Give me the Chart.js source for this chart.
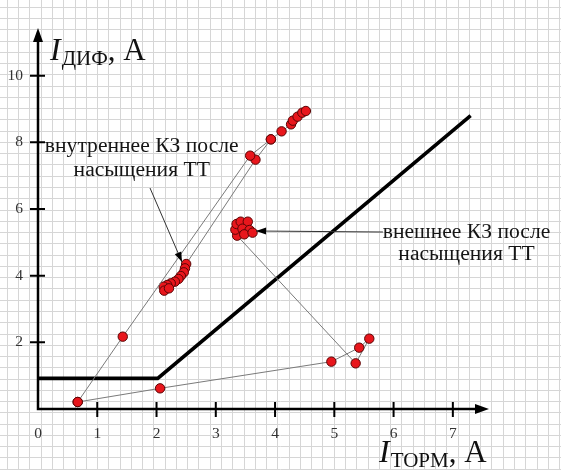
<!DOCTYPE html>
<html>
<head>
<meta charset="utf-8">
<script src="https://cdn.jsdelivr.net/npm/chart.js@4.4.1/dist/chart.umd.min.js"></script>
<style>
  html, body { margin: 0; padding: 0; background: #ffffff; }
  #wrap { width: 561px; height: 470px; }
</style>
</head>
<body>
<div id="wrap"><canvas id="chart" width="561" height="470"></canvas></div>
<script>
// Tick labels of both axes
const xTicks = [0, 1, 2, 3, 4, 5, 6, 7];
const yTicks = [2, 4, 6, 8, 10];

// Restraint characteristic (I_торм, I_диф)
const thresholdX = [0, 2.02, 7.3];
const thresholdY = [0.92, 0.92, 8.8];

// Internal fault: rise of the differential current
const intRiseX = [0.67, 1.43, 3.58, 3.93, 4.11, 4.27, 4.30, 4.38, 4.46, 4.52];
const intRiseY = [0.21, 2.17, 7.60, 8.09, 8.33, 8.54, 8.65, 8.77, 8.89, 8.94];

// Internal fault: after CT saturation
const intSatX = [3.93, 3.67, 2.50, 2.48, 2.46, 2.41, 2.37, 2.31, 2.24, 2.18, 2.12, 2.13, 2.21];
const intSatY = [8.09, 7.48, 4.35, 4.22, 4.10, 3.99, 3.90, 3.82, 3.77, 3.72, 3.67, 3.55, 3.62];

// External fault, ending after CT saturation
const extX = [0.67, 2.06, 4.95, 5.42, 5.59, 5.36, 3.36, 3.33, 3.35, 3.42, 3.54, 3.45, 3.57, 3.48, 3.62];
const extY = [0.21, 0.62, 1.42, 1.84, 2.11, 1.37, 5.20, 5.38, 5.55, 5.62, 5.62, 5.41, 5.37, 5.24, 5.29];

const SERIF = '"Liberation Serif", "DejaVu Serif", serif';
const toPts = (xs, ys) => xs.map((x, i) => ({ x: x, y: ys[i] }));

const pointStyle = {
  showLine: true,
  borderColor: '#7a7a7a',
  borderWidth: 1,
  pointRadius: 4.7,
  pointHoverRadius: 4.7,
  pointBackgroundColor: '#e8161c',
  pointBorderColor: '#5a0505',
  pointBorderWidth: 1,
  tension: 0
};

// Squared paper behind the whole picture
const paperGrid = {
  id: 'paperGrid',
  beforeDraw(chart) {
    const ctx = chart.ctx;
    const step = 11.27;
    ctx.save();
    ctx.fillStyle = '#ffffff';
    ctx.fillRect(0, 0, chart.width, chart.height);
    ctx.strokeStyle = '#d6d6d6';
    ctx.lineWidth = 1;
    ctx.beginPath();
    for (let x = 40.7 - step * 4; x < chart.width; x += step) {
      const px = Math.round(x) + 0.5;
      ctx.moveTo(px, 0); ctx.lineTo(px, chart.height);
    }
    for (let y = 6.7; y < chart.height; y += step) {
      const py = Math.round(y) + 0.5;
      ctx.moveTo(0, py); ctx.lineTo(chart.width, py);
    }
    ctx.stroke();
    ctx.restore();
  }
};

function arrowHead(ctx, x1, y1, x2, y2, len, half) {
  const a = Math.atan2(y2 - y1, x2 - x1);
  ctx.beginPath();
  ctx.moveTo(x2, y2);
  ctx.lineTo(x2 - len * Math.cos(a) + half * Math.sin(a), y2 - len * Math.sin(a) - half * Math.cos(a));
  ctx.lineTo(x2 - len * Math.cos(a) - half * Math.sin(a), y2 - len * Math.sin(a) + half * Math.cos(a));
  ctx.closePath();
  ctx.fill();
}

function drawTitle(ctx, x, y, sub) {
  ctx.textAlign = 'left';
  ctx.textBaseline = 'alphabetic';
  ctx.font = 'italic 32px ' + SERIF;
  ctx.fillText('I', x, y);
  let cx = x + ctx.measureText('I').width + 1;
  ctx.font = '21px ' + SERIF;
  ctx.fillText(sub, cx, y + 5);
  cx += ctx.measureText(sub).width;
  ctx.font = '31px ' + SERIF;
  ctx.fillText(', А', cx, y);
}

// Axes with arrows, crossing tick marks, titles and callouts
const overlay = {
  id: 'overlay',
  afterDraw(chart) {
    const ctx = chart.ctx;
    const xs = chart.scales.x, ys = chart.scales.y;
    const X = v => xs.getPixelForValue(v);
    const Y = v => ys.getPixelForValue(v);
    const x0 = X(0), y0 = Y(0);
    const xEnd = chart.chartArea.right, yEnd = chart.chartArea.top;
    ctx.save();
    ctx.strokeStyle = '#000';
    ctx.fillStyle = '#000';
    ctx.lineCap = 'butt';

    ctx.lineWidth = 2.5;
    ctx.beginPath();
    ctx.moveTo(x0, y0); ctx.lineTo(xEnd - 8, y0);
    ctx.moveTo(x0, y0 + 1.2); ctx.lineTo(x0, yEnd + 8);
    ctx.stroke();
    arrowHead(ctx, x0, y0, xEnd, y0, 14, 5);
    arrowHead(ctx, x0, y0, x0, yEnd, 14, 5);

    ctx.lineWidth = 2;
    ctx.beginPath();
    xTicks.forEach(v => { if (v !== 0) { ctx.moveTo(X(v), y0 - 7); ctx.lineTo(X(v), y0 + 8); } });
    yTicks.forEach(v => { ctx.moveTo(x0 - 8, Y(v)); ctx.lineTo(x0 + 7, Y(v)); });
    ctx.stroke();

    ctx.fillStyle = '#111';
    drawTitle(ctx, x0 + 12, 60, 'ДИФ');
    drawTitle(ctx, 379, 462, 'ТОРМ');

    // callouts
    ctx.font = '21.6px ' + SERIF;
    ctx.textAlign = 'center';
    ctx.textBaseline = 'middle';
    ctx.fillStyle = '#151515';
    ctx.fillText('внутреннее КЗ после', X(1.75), Y(7.89));
    ctx.fillText('насыщения ТТ', X(1.75), Y(7.17));
    ctx.fillText('внешнее КЗ после', X(7.23), Y(5.31));
    ctx.fillText('насыщения ТТ', X(7.23), Y(4.65));

    ctx.strokeStyle = '#333';
    ctx.fillStyle = '#000';
    ctx.lineWidth = 1;
    const a1 = [X(1.89), Y(6.63), X(2.43), Y(4.41)];
    const a2 = [X(5.82), Y(5.31), X(3.68), Y(5.34)];
    [a1, a2].forEach(a => {
      ctx.beginPath(); ctx.moveTo(a[0], a[1]); ctx.lineTo(a[2], a[3]); ctx.stroke();
      arrowHead(ctx, a[0], a[1], a[2], a[3], 10, 3.5);
    });
    ctx.restore();
  }
};

new Chart(document.getElementById('chart'), {
  type: 'scatter',
  data: {
    datasets: [
      Object.assign({ label: 'внутреннее КЗ', data: toPts(intRiseX, intRiseY), order: 1 }, pointStyle),
      Object.assign({ label: 'внутреннее КЗ после насыщения ТТ', data: toPts(intSatX, intSatY), order: 1 }, pointStyle),
      Object.assign({ label: 'внешнее КЗ после насыщения ТТ', data: toPts(extX, extY), order: 2 }, pointStyle),
      {
        label: 'характеристика срабатывания',
        data: toPts(thresholdX, thresholdY),
        showLine: true,
        borderColor: '#000',
        borderWidth: 3.6,
        pointRadius: 0,
        borderJoinStyle: 'miter',
        order: 3
      }
    ]
  },
  options: {
    responsive: false,
    animation: false,
    devicePixelRatio: 1,
    layout: { padding: { top: 28, right: 72, left: 0, bottom: 0 } },
    plugins: { legend: { display: false }, tooltip: { enabled: false } },
    scales: {
      x: {
        type: 'linear',
        min: 0,
        max: 7.61,
        grid: { display: false, drawTicks: false },
        border: { display: false },
        afterBuildTicks: s => { s.ticks = xTicks.map(v => ({ value: v })); },
        afterFit: s => { s.height = 61; },
        ticks: { font: { family: SERIF, size: 15.5 }, color: '#333', padding: 16, maxRotation: 0, autoSkip: false }
      },
      y: {
        type: 'linear',
        min: 0,
        max: 11.43,
        grid: { display: false, drawTicks: false },
        border: { display: false },
        afterBuildTicks: s => { s.ticks = yTicks.map(v => ({ value: v })); },
        afterFit: s => { s.width = 38; },
        ticks: { font: { family: SERIF, size: 15.5 }, color: '#333', padding: 15, autoSkip: false }
      }
    }
  },
  plugins: [paperGrid, overlay]
});
</script>
</body>
</html>
